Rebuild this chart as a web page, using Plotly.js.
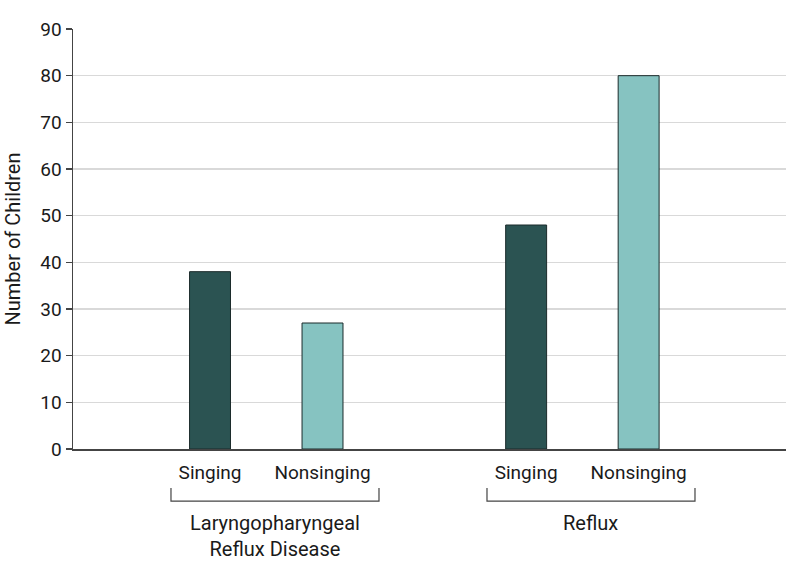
<!DOCTYPE html>
<html>
<head>
<meta charset="utf-8">
<script src="https://cdn.plot.ly/plotly-3.0.1.min.js"></script>
<style>html,body{margin:0;padding:0;background:#fff;}#chart{width:798px;height:574px;}</style>
</head>
<body>
<div id="chart"></div>
<script>
// Data
const groups = ["Laryngopharyngeal<br>Reflux Disease", "Reflux"];
const barLabels = ["Singing", "Nonsinging", "Singing", "Nonsinging"];
const singingValues = [38, 48];
const nonsingingValues = [27, 80];
const yTicks = [0, 10, 20, 30, 40, 50, 60, 70, 80, 90];

// layout positions (x axis units)
const singingX = [1, 3.81];
const nonsingingX = [2, 4.81];
const tickPos = [singingX[0], nonsingingX[0], singingX[1], nonsingingX[1]];
const font = "Roboto, 'Liberation Sans', sans-serif";
const ink = "#1a1a1a";

const traces = [
  {type: "bar", x: singingX, y: singingValues, width: 0.364,
   marker: {color: "#2B5352", line: {color: "#1b2b2b", width: 1}}, hoverinfo: "y", name: "Singing"},
  {type: "bar", x: nonsingingX, y: nonsingingValues, width: 0.364,
   marker: {color: "#86C3C1", line: {color: "#1b2b2b", width: 1}}, hoverinfo: "y", name: "Nonsinging"}
];

const bracket = (x0, x1) => ({
  type: "path", xref: "x", yref: "paper",
  path: `M ${x0} -0.093 L ${x0} -0.124 L ${x1} -0.124 L ${x1} -0.093`,
  line: {color: "#444", width: 1.2}
});

const layout = {
  width: 798, height: 574,
  margin: {l: 73, r: 12, t: 29, b: 125},
  paper_bgcolor: "#fff", plot_bgcolor: "#fff",
  showlegend: false,
  font: {family: font, size: 19, color: ink},
  bargap: 0,
  xaxis: {
    range: [-0.218, 6.12], tickvals: tickPos, ticktext: barLabels,
    showgrid: false, zeroline: false, showline: true, linecolor: "#444", linewidth: 1.5,
    ticks: "", ticklabelstandoff: 6, tickfont: {family: font, size: 19, color: ink}, fixedrange: true
  },
  yaxis: {
    range: [0, 90], tickvals: yTicks, showgrid: true, gridcolor: "#d9d9d9", gridwidth: 1.5,
    zeroline: false, showline: true, linecolor: "#444", linewidth: 1.5,
    ticks: "outside", ticklen: 6, tickcolor: "#444", tickwidth: 1.2,
    tickfont: {family: font, size: 19, color: ink},
    title: {text: "Number of Children", font: {family: font, size: 20, color: ink}, standoff: 14},
    fixedrange: true
  },
  shapes: [bracket(0.653, 2.502), bracket(3.462, 5.311)],
  annotations: [
    {x: (0.653 + 2.502) / 2, y: -0.143, xref: "x", yref: "paper", text: groups[0],
     showarrow: false, yanchor: "top", xanchor: "center", font: {family: font, size: 20, color: ink}},
    {x: (3.462 + 5.311) / 2, y: -0.143, xref: "x", yref: "paper", text: groups[1],
     showarrow: false, yanchor: "top", xanchor: "center", font: {family: font, size: 20, color: ink}}
  ]
};

Plotly.newPlot("chart", traces, layout, {displayModeBar: false, staticPlot: true});
</script>
</body>
</html>
